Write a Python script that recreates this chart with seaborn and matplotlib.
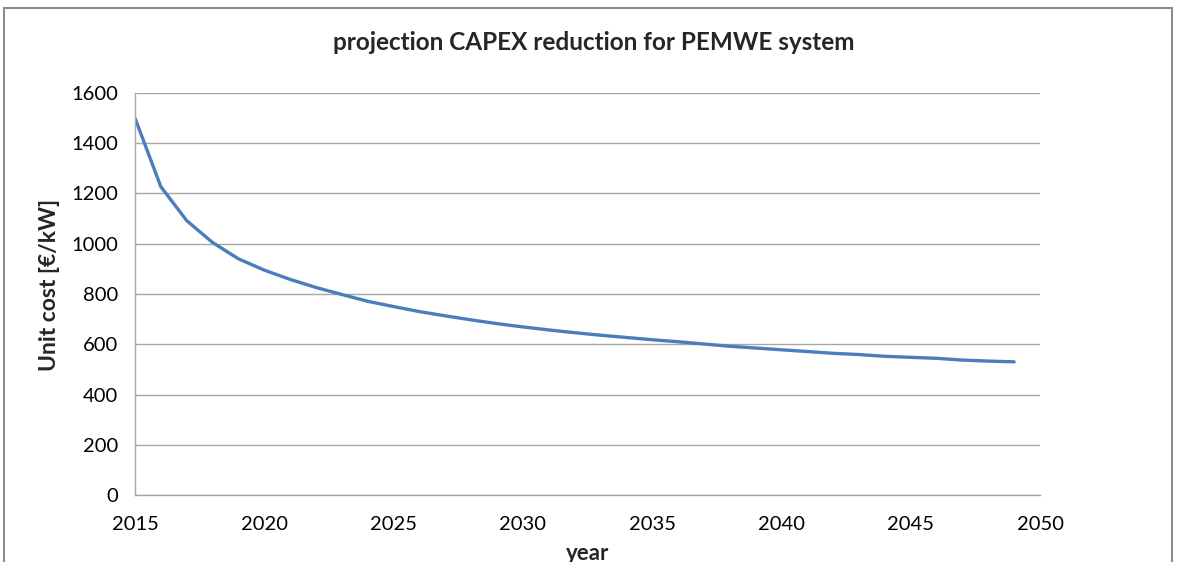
import matplotlib
matplotlib.use("Agg")
import matplotlib.pyplot as plt
import seaborn as sns
import pandas as pd
from matplotlib.patches import Rectangle

years = list(range(2015, 2050))
unit_cost = [1500, 1227, 1092, 1005, 940, 895, 858, 826, 798, 771,
             750, 730, 713, 697, 682, 669, 657, 646, 636, 627,
             618, 610, 601, 592, 585, 578, 571, 564, 559, 552,
             548, 544, 537, 533, 530]
x_ticks = [2015, 2020, 2025, 2030, 2035, 2040, 2045, 2050]
y_ticks = [0, 200, 400, 600, 800, 1000, 1200, 1400, 1600]

title = "projection CAPEX reduction for PEMWE system"
xlabel = "year"
ylabel = "Unit cost [€/kW]"

sns.set_style("white")
plt.rcParams['font.family'] = ['Lato', 'DejaVu Sans']

df = pd.DataFrame({"year": years, "cost": unit_cost})

W, H = 1177, 562
fig = plt.figure(figsize=(W / 100, H / 100), dpi=100)
ax = fig.add_axes([135 / W, 1 - 495 / H, (1040 - 135) / W, (495 - 93) / H])

sns.lineplot(data=df, x="year", y="cost", ax=ax, color="#4A7EBB", linewidth=2.4)

ax.set_xlim(2015, 2050)
ax.set_ylim(0, 1600)
ax.set_xticks(x_ticks)
ax.set_yticks(y_ticks)
ax.yaxis.grid(True, color="#A6A6A6", linewidth=1.0)
ax.xaxis.grid(False)
for s in ["top", "right"]:
    ax.spines[s].set_visible(False)
for s in ["left", "bottom"]:
    ax.spines[s].set_color("#A6A6A6")
    ax.spines[s].set_linewidth(1.0)
ax.tick_params(axis="both", which="major", direction="out", length=6, width=1.0,
               color="#A6A6A6", labelsize=14.5, labelcolor="black", pad=6)
ax.tick_params(axis="x", pad=9)

ax.set_xlabel(xlabel, fontsize=16, fontweight="bold")
ax.set_ylabel(ylabel, fontsize=16.5, fontweight="bold")
ax.xaxis.set_label_coords(0.5, (495 - 553) / 402, transform=ax.transAxes)
ax.xaxis.label.set_va("center")
ax.yaxis.set_label_coords((50 - 135) / 905, (495 - 285) / 402, transform=ax.transAxes)
ax.yaxis.label.set_va("center")

fig.text(594 / W, 1 - 43 / H, title, ha="center", va="center",
         fontsize=17.5, fontweight="bold")

fig.patches.append(Rectangle((4 / W, -0.1), (1172 - 4) / W, 1.1 - 8 / H,
                             transform=fig.transFigure, fill=False,
                             edgecolor="#8C8C8C", linewidth=1.5))

fig.savefig("out.png", dpi=100)
